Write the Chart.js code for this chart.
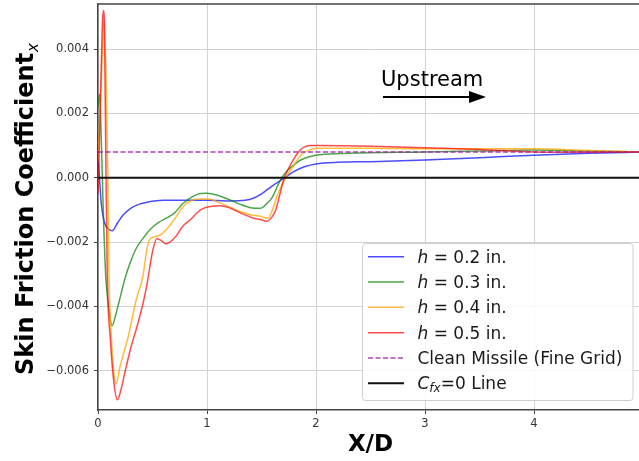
<!DOCTYPE html>
<html>
<head>
<meta charset="utf-8">
<script src="https://cdn.jsdelivr.net/npm/chart.js@4"></script>
<style>
  html, body { margin: 0; padding: 0; background: #fff; overflow: hidden; }
  canvas { display: block; }
</style>
</head>
<body>
<canvas id="cfChart" width="645" height="461"></canvas>
<script>
const xTicks = [0, 1, 2, 3, 4, 5];
const yTicks = [-0.006, -0.004, -0.002, 0, 0.002, 0.004];

// h = 0.2 in.
const h02X  = [0, 0.01, 0.03, 0.06, 0.1, 0.13, 0.18, 0.23, 0.3, 0.38, 0.45, 0.6, 0.8, 1.0, 1.2, 1.35, 1.43, 1.5, 1.6, 1.7, 1.8, 1.9, 2.0, 2.2, 2.5, 3, 3.5, 4, 4.5, 5];
const h02Cf = [0.0008, 0.0002, -0.0008, -0.0014, -0.0016, -0.00165, -0.0014, -0.00116, -0.00095, -0.00082, -0.00076, -0.0007, -0.0007, -0.0007, -0.00072, -0.0007, -0.00063, -0.0005, -0.00025, -0.00003, 0.0002, 0.00035, 0.00043, 0.00048, 0.0005, 0.00055, 0.00062, 0.0007, 0.00076, 0.0008];

// h = 0.3 in.
const h03X  = [0, 0.015, 0.03, 0.05, 0.07, 0.1, 0.13, 0.16, 0.19, 0.25, 0.3, 0.35, 0.41, 0.48, 0.55, 0.63, 0.7, 0.78, 0.86, 0.94, 1.0, 1.1, 1.19, 1.3, 1.4, 1.49, 1.55, 1.6, 1.67, 1.73, 1.8, 1.86, 1.95, 2.05, 2.3, 3, 3.5, 4, 4.5, 5];
const h03Cf = [0.0022, 0.0026, 0.0012, -0.0012, -0.003, -0.0041, -0.0046, -0.0043, -0.0039, -0.0031, -0.0026, -0.0022, -0.0019, -0.0016, -0.0014, -0.00125, -0.0011, -0.0008, -0.0006, -0.00049, -0.00048, -0.00055, -0.00066, -0.00082, -0.00093, -0.00095, -0.0008, -0.0006, -0.0001, 0.0002, 0.0004, 0.00055, 0.00066, 0.00072, 0.00076, 0.0008, 0.00083, 0.00086, 0.00083, 0.0008];

// h = 0.4 in.
const h04X  = [0, 0.03, 0.055, 0.075, 0.09, 0.1, 0.125, 0.15, 0.168, 0.2, 0.28, 0.35, 0.41, 0.45, 0.48, 0.56, 0.63, 0.7, 0.78, 0.86, 0.94, 1.02, 1.1, 1.2, 1.31, 1.4, 1.49, 1.56, 1.6, 1.64, 1.69, 1.74, 1.8, 1.86, 1.93, 2.01, 2.5, 3, 3.5, 4, 4.5, 5];
const h04Cf = [0.0005, 0.003, 0.0049, 0.003, 0.0, -0.0029, -0.0051, -0.0062, -0.0064, -0.0059, -0.0049, -0.0038, -0.0031, -0.0022, -0.0019, -0.0018, -0.0016, -0.0013, -0.0009, -0.0007, -0.00066, -0.00066, -0.00076, -0.0009, -0.00106, -0.00115, -0.0012, -0.00126, -0.001, -0.0006, -0.0002, 0.0001, 0.0004, 0.0007, 0.00085, 0.00092, 0.00092, 0.0009, 0.0009, 0.0009, 0.00085, 0.0008];

// h = 0.5 in.
const h05X  = [0, 0.02, 0.04, 0.05, 0.06, 0.07, 0.085, 0.113, 0.147, 0.178, 0.21, 0.25, 0.3, 0.36, 0.42, 0.45, 0.5, 0.54, 0.58, 0.62, 0.66, 0.72, 0.78, 0.85, 0.94, 1.02, 1.12, 1.2, 1.31, 1.42, 1.49, 1.55, 1.6, 1.63, 1.67, 1.7, 1.75, 1.79, 1.84, 1.89, 1.95, 2.05, 2.5, 3, 3.5, 4, 4.5, 5];
const h05Cf = [-0.0005, 0.002, 0.0048, 0.0052, 0.0045, 0.0012, -0.003, -0.005, -0.0064, -0.0069, -0.0066, -0.006, -0.0053, -0.0046, -0.0038, -0.0033, -0.0023, -0.0019, -0.00195, -0.00205, -0.002, -0.0018, -0.0015, -0.0013, -0.001, -0.0009, -0.00087, -0.00093, -0.0011, -0.00125, -0.0013, -0.00135, -0.0012, -0.001, -0.0005, -0.0001, 0.0003, 0.00055, 0.0008, 0.00095, 0.001, 0.001, 0.00098, 0.00093, 0.00088, 0.0008, 0.00079, 0.0008];

// reference lines
const refX = [0, 5];
const cleanMissileCf = [0.0008, 0.0008];
const zeroLineCf = [0, 0];

const FONT = '"DejaVu Sans", sans-serif';

function pts(xs, ys) {
  return xs.map((x, i) => ({ x: x, y: ys[i] }));
}

const series = [
  { x: h02X, y: h02Cf, color: 'rgba(0,0,255,0.7)', dash: [], width: 1.5, order: 6,
    rich: [['h', 'i'], [' = 0.2 in.', 'n']] },
  { x: h03X, y: h03Cf, color: 'rgba(0,128,0,0.7)', dash: [], width: 1.5, order: 5,
    rich: [['h', 'i'], [' = 0.3 in.', 'n']] },
  { x: h04X, y: h04Cf, color: 'rgba(255,165,0,0.75)', dash: [], width: 1.5, order: 4,
    rich: [['h', 'i'], [' = 0.4 in.', 'n']] },
  { x: h05X, y: h05Cf, color: 'rgba(255,0,0,0.7)', dash: [], width: 1.5, order: 3,
    rich: [['h', 'i'], [' = 0.5 in.', 'n']] },
  { x: refX, y: cleanMissileCf, color: 'rgba(160,30,170,0.85)', dash: [5, 2.5], width: 1.4, order: 2,
    rich: [['Clean Missile (Fine Grid)', 'n']] },
  { x: refX, y: zeroLineCf, color: '#111', dash: [], width: 2, order: 1,
    rich: [['C', 'i'], ['fx', 'sub'], ['=0 Line', 'n']] }
];

const datasets = series.map(s => ({
  data: pts(s.x, s.y),
  borderColor: s.color,
  borderWidth: s.width,
  borderDash: s.dash,
  pointRadius: 0,
  fill: false,
  cubicInterpolationMode: 'monotone',
  order: s.order
}));

function drawRich(ctx, parts, x, y, size) {
  let cx = x;
  parts.forEach(([txt, kind]) => {
    let dy = 0;
    if (kind === 'i') ctx.font = 'italic ' + size + 'px ' + FONT;
    else if (kind === 'sub') { ctx.font = 'italic ' + Math.round(size * 0.7) + 'px ' + FONT; dy = 3; }
    else ctx.font = size + 'px ' + FONT;
    ctx.fillText(txt, cx, y + dy);
    cx += ctx.measureText(txt).width;
  });
}

const decorations = {
  id: 'decorations',
  afterDraw(chart) {
    const ctx = chart.ctx;
    const area = chart.chartArea;
    ctx.save();

    // top spine
    ctx.strokeStyle = '#444';
    ctx.lineWidth = 1.5;
    ctx.beginPath();
    ctx.moveTo(area.left, area.top);
    ctx.lineTo(area.right, area.top);
    ctx.stroke();

    // y title with subscript
    ctx.save();
    ctx.translate(32.5, 375);
    ctx.rotate(-Math.PI / 2);
    ctx.fillStyle = '#000';
    ctx.textBaseline = 'alphabetic';
    ctx.font = 'bold 24px ' + FONT;
    const main = 'Skin Friction Coefficient';
    ctx.fillText(main, 0, 0);
    const w = ctx.measureText(main).width;
    ctx.font = 'italic 15px ' + FONT;
    ctx.fillText('x', w + 1, 5);
    ctx.restore();

    // upstream annotation
    ctx.fillStyle = '#000';
    ctx.font = '21px ' + FONT;
    ctx.textBaseline = 'alphabetic';
    ctx.fillText('Upstream', 381, 86);
    ctx.strokeStyle = '#000';
    ctx.lineWidth = 2;
    ctx.beginPath();
    ctx.moveTo(383, 97);
    ctx.lineTo(470, 97);
    ctx.stroke();
    ctx.beginPath();
    ctx.moveTo(486, 97);
    ctx.lineTo(469, 91);
    ctx.lineTo(469, 103);
    ctx.closePath();
    ctx.fill();

    // legend
    const lx = 362.5, ly = 243.5, lw = 270.5, lh = 157;
    ctx.fillStyle = 'rgba(255,255,255,0.85)';
    ctx.strokeStyle = '#cfcfcf';
    ctx.lineWidth = 1;
    ctx.beginPath();
    ctx.roundRect(lx, ly, lw, lh, 3);
    ctx.fill();
    ctx.stroke();

    series.forEach((s, i) => {
      const cy = 256.7 + i * 25.33;
      ctx.strokeStyle = s.color;
      ctx.lineWidth = s.width;
      ctx.setLineDash(s.dash);
      ctx.beginPath();
      ctx.moveTo(368, cy);
      ctx.lineTo(404, cy);
      ctx.stroke();
      ctx.setLineDash([]);
      ctx.fillStyle = '#1a1a1a';
      drawRich(ctx, s.rich, 417.5, cy + 6, 17);
    });

    ctx.restore();
  }
};

new Chart(document.getElementById('cfChart'), {
  type: 'line',
  data: { datasets: datasets },
  plugins: [decorations],
  options: {
    responsive: false,
    animation: false,
    layout: { padding: { left: 0, top: 4, right: 2, bottom: 0 } },
    plugins: {
      legend: { display: false },
      tooltip: { enabled: false }
    },
    scales: {
      x: {
        type: 'linear',
        min: 0,
        max: 5,
        afterBuildTicks: scale => { scale.ticks = xTicks.map(v => ({ value: v })); },
        afterFit: scale => { scale.height = 51; scale.paddingLeft = 0; scale.paddingRight = 0; },
        ticks: {
          padding: 3,
          color: '#333',
          font: { family: FONT, size: 11.5 },
          callback: v => String(v)
        },
        grid: { color: '#d2d2d2', lineWidth: 1, tickColor: '#444', tickLength: 4 },
        border: { color: '#444', width: 1.5 },
        title: {
          display: true,
          text: 'X/D',
          color: '#000',
          font: { family: FONT, size: 23, weight: 'bold' },
          padding: { top: 0, bottom: 2 }
        }
      },
      y: {
        type: 'linear',
        min: -0.00722,
        max: 0.0054,
        afterBuildTicks: scale => { scale.ticks = yTicks.map(v => ({ value: v })); },
        afterFit: scale => { scale.width = 98; scale.paddingTop = 0; scale.paddingBottom = 0; },
        ticks: {
          padding: 5,
          color: '#333',
          font: { family: FONT, size: 11.5 },
          callback: v => v.toFixed(3).replace('-', '\u2212')
        },
        grid: { color: '#d2d2d2', lineWidth: 1, tickColor: '#444', tickLength: 4 },
        border: { color: '#444', width: 1.5 }
      }
    }
  }
});
</script>
</body>
</html>
